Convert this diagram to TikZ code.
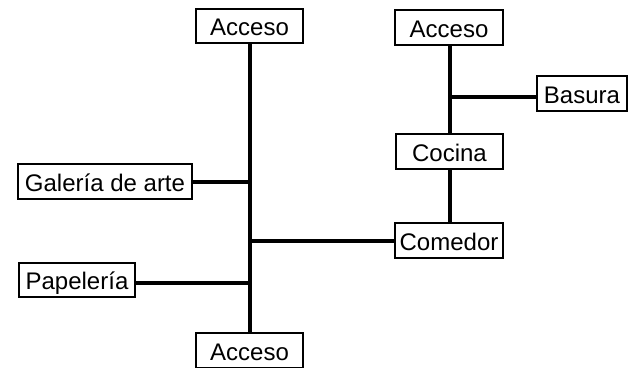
\documentclass[tikz,border=0pt]{standalone}
\usepackage{fontspec}
\setmainfont{Liberation Sans}
\begin{document}
\begin{tikzpicture}[x=1bp,y=-1bp,
  roombox/.style={draw=black, line width=1.8bp, fill=white, inner sep=0pt,
    text height=19.5bp, text depth=0bp, font=\fontsize{24bp}{28bp}\selectfont},
  link/.style={line width=4.5bp, black}]
\useasboundingbox (0,0) rectangle (631,367);
% nodes
\node[roombox, minimum width=107bp, minimum height=34bp] (acc1) at (249.5,26) {Acceso};
\node[roombox, minimum width=108bp, minimum height=35bp] (acc2) at (449,27.5) {Acceso};
\node[roombox, minimum width=90bp, minimum height=35bp] (basura) at (582,93.5) {Basura};
\node[roombox, minimum width=107bp, minimum height=35bp] (cocina) at (449.5,151.5) {Cocina};
\node[roombox, minimum width=108bp, minimum height=35bp] (comedor) at (449,240.5) {Comedor};
\node[roombox, minimum width=174bp, minimum height=35bp] (galeria) at (105,181.5) {Galería de arte};
\node[roombox, minimum width=116bp, minimum height=34bp] (papeleria) at (77,280) {Papelería};
\node[roombox, minimum width=107bp, minimum height=35bp] (acc3) at (249.5,350.5) {Acceso};
% junctions
\coordinate (jg) at (250,182);
\coordinate (jc) at (250,241);
\coordinate (jp) at (250,283);
\coordinate (jb) at (450,97);
% connectors
\draw[link] (acc1.south -| jg) -- (acc3.north -| jg);
\draw[link] (jg) -- (jg -| galeria.east);
\draw[link] (jp) -- (jp -| papeleria.east);
\draw[link] (jc) -- (jc -| comedor.west);
\draw[link] (acc2.south -| jb) -- (cocina.north -| jb);
\draw[link] (cocina.south -| jb) -- (comedor.north -| jb);
\draw[link] (jb) -- (jb -| basura.west);
\end{tikzpicture}
\end{document}
